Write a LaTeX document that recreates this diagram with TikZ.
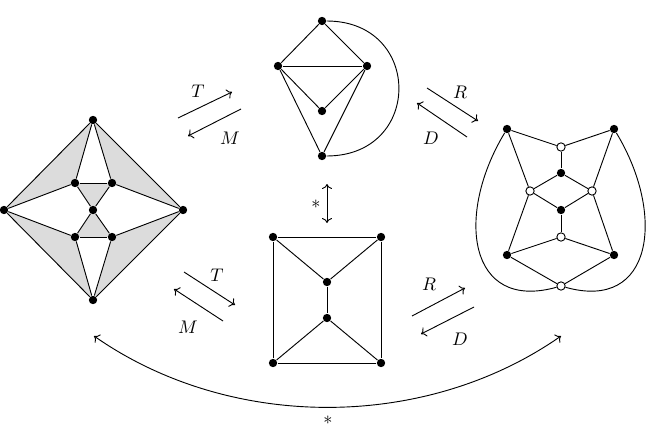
\documentclass[tikz,border=0pt]{standalone}
\usepackage{amsmath,amssymb}
\usepackage{xcolor}
\usepackage{tikz}
\usetikzlibrary{backgrounds,arrows.meta}
\definecolor{fcgray}{HTML}{DCDCDC}

\begin{document}
\begin{tikzpicture}[x=0.6pt,y=-0.6pt,>={Computer Modern Rightarrow[length=3pt,width=6pt]},line width=0.55pt,font=\fontsize{11}{13}\selectfont,
  vtx/.style={circle,fill=black,inner sep=0pt,minimum size=5pt},
  wvtx/.style={circle,draw=black,fill=white,inner sep=0pt,minimum size=5pt}]
  \useasboundingbox (0,0) rectangle (651,424);
  % octahedron with shaded faces
  \foreach \n/\x/\y in {o1/93/120,o2/4/210,o3/183/210,o4/93/300,o5/75/183,o6/112/183,o7/93/210,o8/75/237,o9/112/237}
    \node[vtx] (\n) at (\x,\y) {};
  \begin{scope}[on background layer]
    \foreach \a/\b/\c in {o1/o2/o5,o1/o3/o6,o5/o6/o7,o7/o8/o9,o2/o8/o4,o3/o9/o4}
      \fill[fcgray] (\a.center) -- (\b.center) -- (\c.center) -- cycle;
  \end{scope}
  \foreach \a/\b in {o1/o2,o1/o3,o4/o2,o4/o3,o1/o5,o1/o6,o5/o6,o5/o7,o6/o7,o5/o2,o6/o3,o7/o8,o7/o9,o8/o9,o8/o2,o9/o3,o8/o4,o9/o4}
    \draw (\a) -- (\b);
  % top graph
  \foreach \n/\x/\y in {t1/322/21,t2/278/66,t3/367/66,t4/322/111,t5/322/156}
    \node[vtx] (\n) at (\x,\y) {};
  \foreach \a/\b in {t1/t2,t1/t3,t2/t3,t2/t4,t3/t4,t2/t5,t3/t5}
    \draw (\a) -- (\b);
  \draw (t1) .. controls (423,21) and (423,156) .. (t5);
  % bottom graph
  \foreach \n/\x/\y in {q1/273/237,q2/381/237,q3/327/282,q4/327/318,q5/273/363,q6/381/363}
    \node[vtx] (\n) at (\x,\y) {};
  \foreach \a/\b in {q1/q2,q2/q6,q6/q5,q5/q1,q1/q3,q2/q3,q3/q4,q4/q5,q4/q6}
    \draw (\a) -- (\b);
  % right graph
  \foreach \n/\s/\x/\y in {rA/vtx/507/129,rB/vtx/614/129,rC/vtx/507/255,rD/vtx/614/255,
      rb1/vtx/561/173,rb2/vtx/561/210,rw1/wvtx/561/147,rw2/wvtx/530/191,rw3/wvtx/592/191,
      rw4/wvtx/561/237,rw5/wvtx/561/286}
    \node[\s] (\n) at (\x,\y) {};
  \foreach \a/\b in {rA/rw1,rB/rw1,rw1/rb1,rb1/rw2,rb1/rw3,rw2/rb2,rw3/rb2,rb2/rw4,rw4/rC,rw4/rD,
      rA/rw2,rB/rw3,rw2/rC,rw3/rD,rC/rw5,rD/rw5}
    \draw (\a) -- (\b);
  \draw (rA) .. controls (455,215) and (468,312) .. (rw5);
  \draw (rB) .. controls (666,215) and (653,312) .. (rw5);
  % transformation arrows
  \foreach \n/\xa/\ya/\xb/\yb/\lx/\ly/\l in {
      tt/178/118/232/92/198/91/T, tm/241/109/188/136/230/138/M,
      rr/427/88/478/121/460/92/R, rd/467/137/417/103/431/138/D,
      bt/184/272/235/305/217/275/T, bm/223/321/174/289/188/327/M,
      sr/412/316/465/288/429/284/R, sd/474/307/421/334/460/339/D}
  {
    \coordinate (\n s) at (\xa,\ya);
    \coordinate (\n e) at (\xb,\yb);
    \draw[->] (\n s) -- (\n e);
    \node (\n l) at (\lx,\ly) {$\l$};
  }
  \coordinate (vs) at (327,184);
  \coordinate (ve) at (327,223);
  \draw[<->] (vs) -- (ve);
  \node (vl) at (316,204) {$*$};
  \coordinate (cs) at (94,336);
  \coordinate (ce) at (561,336);
  \draw[<->] (cs) .. controls (230,431) and (425,431) .. (ce);
  \node (cl) at (328,420) {$*$};
\end{tikzpicture}
\end{document}
